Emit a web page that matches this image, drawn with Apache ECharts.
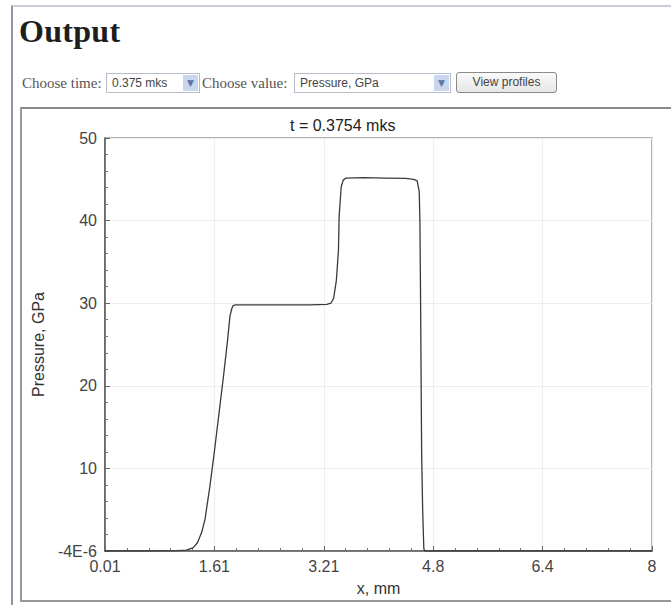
<!DOCTYPE html>
<html>
<head>
<meta charset="utf-8">
<script src="https://cdn.jsdelivr.net/npm/echarts@6/dist/echarts.min.js"></script>
<style>
  html, body { margin:0; padding:0; background:#fff; }
  body { width:671px; height:605px; overflow:hidden; position:relative; }
  .pageframe { position:absolute; left:11px; top:5px; width:720px; height:700px;
    border-left:2px solid #8f95a5; border-top:2px solid #c9cdd6; }
  h1 { position:absolute; left:19px; top:13px; margin:0; font:bold 32px "Liberation Serif", serif; color:#1e1e1e; letter-spacing:0.3px; }
  .lbl { position:absolute; top:75px; font:15px "Liberation Serif", serif; color:#555; white-space:nowrap; }
  .sel { position:absolute; top:73px; height:18px; border:1px solid #b8bcc8; background:#fff;
    font:12px "Liberation Sans", sans-serif; color:#444; line-height:18px; box-sizing:content-box; }
  .sel span { position:absolute; left:5px; top:0; }
  .arr { position:absolute; right:1px; top:1px; width:15px; height:16px; background:#c9d6ee; color:#5a74a8;
    font:9px "DejaVu Sans", sans-serif; line-height:16px; text-align:center; }
  .btn { position:absolute; top:72px; left:456px; width:99px; height:19px; border:1px solid #8a8a8a; border-radius:3px;
    background:linear-gradient(#fafafa,#e6e6e6); font:12px "Liberation Sans", sans-serif; color:#444; text-align:center; line-height:19px; }
  .box { position:absolute; left:20px; top:107px; width:700px; height:491px; border:2px solid #9a9a9a; border-top-color:#8a8a8a; }
  #chart { position:absolute; left:0; top:0; width:671px; height:605px; }
</style>
</head>
<body>
<div class="pageframe"></div>
<h1>Output</h1>
<div class="lbl" style="left:22px">Choose time:</div>
<div class="sel" style="left:106px;width:92px"><span>0.375 mks</span><div class="arr">▼</div></div>
<div class="lbl" style="left:202px">Choose value:</div>
<div class="sel" style="left:294px;width:155px"><span>Pressure, GPa</span><div class="arr">▼</div></div>
<div class="btn">View profiles</div>
<div class="box"></div>
<div id="chart"></div>
<script>
// ---- data ----
const xPos = [0.01, 0.5, 1.0, 1.2, 1.3, 1.36, 1.42, 1.47, 1.54, 1.61, 1.68, 1.74, 1.80, 1.835, 1.86, 1.88, 1.92,
              2.2, 2.6, 3.0, 3.25, 3.31, 3.35, 3.39, 3.42, 3.43, 3.46, 3.49, 3.53, 3.8, 4.1, 4.4, 4.52, 4.57,
              4.60, 4.61, 4.62, 4.635, 4.65, 4.667, 4.68, 5.0, 6.0, 7.0, 8.0];
const pressure = [0, 0, 0.02, 0.1, 0.4, 1.0, 2.2, 3.8, 7.7, 12.2, 17.0, 21.1, 25.5, 28.4, 29.3, 29.7, 29.8,
                  29.8, 29.8, 29.8, 29.85, 30.0, 30.6, 32.8, 36.4, 40.5, 44.1, 44.9, 45.15, 45.2, 45.15, 45.1, 45.0, 44.8,
                  43.5, 40.0, 30.0, 12.0, 5.0, 0.3, 0, 0, 0, 0, 0];
const xTicks = [0.01, 1.608, 3.206, 4.804, 6.402, 8];
const xMinorTicks = [0.3296, 0.6492, 0.9688, 1.2884, 1.9276, 2.2472, 2.5668, 2.8864, 3.5256, 3.8452, 4.1648, 4.4844,
                     5.1236, 5.4432, 5.7628, 6.0824, 6.7216, 7.0412, 7.3608, 7.6804];
const yTickInterval = 10;
const yMinLabel = '-4E-6';
const titleText = 't = 0.3754 mks';
const xName = 'x, mm';
const yName = 'Pressure, GPa';

const chart = echarts.init(document.getElementById('chart'), null, {renderer: 'svg'});
const font = 'Liberation Sans';
chart.setOption({
  animation: false,
  backgroundColor: 'transparent',
  title: { text: titleText, left: 285, top: 112,
    textStyle: { fontSize: 16, fontWeight: 'normal', color: '#222', fontFamily: font } },
  grid: { left: 105, top: 138, right: 19, bottom: 54, show: true, borderColor: '#9a9a9a', borderWidth: 1.5 },
  xAxis: [{
    type: 'value', min: 0.01, max: 8,
    name: xName, nameLocation: 'middle', nameGap: 29,
    nameTextStyle: { fontSize: 16, color: '#333', fontFamily: font },
    axisLine: { lineStyle: { color: '#555', width: 1.5 } },
    axisTick: { inside: true, length: 5, customValues: xTicks, lineStyle: { color: '#666' } },
    axisLabel: { customValues: xTicks, fontSize: 16, color: '#444', fontFamily: font, margin: 7,
      formatter: v => String(parseFloat(v.toFixed(2))) },
    splitLine: { show: true, lineStyle: { color: '#eeeeee', width: 1 } }
  }, {
    type: 'value', min: 0.01, max: 8, position: 'bottom',
    axisLine: { show: false }, axisLabel: { show: false }, splitLine: { show: false },
    axisTick: { inside: true, length: 3, customValues: xMinorTicks, lineStyle: { color: '#777' } }
  }],
  yAxis: {
    type: 'value', min: 0, max: 50, interval: yTickInterval,
    name: yName, nameLocation: 'middle', nameGap: 52,
    nameTextStyle: { fontSize: 16, color: '#333', fontFamily: font },
    axisLine: { show: true, lineStyle: { color: '#555', width: 1.5 } },
    axisTick: { show: true, inside: true, length: 5, lineStyle: { color: '#666' } },
    minorTick: { show: true, splitNumber: 5, length: 3, lineStyle: { color: '#777' } },
    axisLabel: { fontSize: 16, color: '#444', fontFamily: font, margin: 8,
      formatter: v => v === 0 ? yMinLabel : String(v) },
    splitLine: { show: true, lineStyle: { color: '#eeeeee', width: 1 } }
  },
  series: [{
    type: 'line', xAxisIndex: 0,
    data: xPos.map((x, i) => [x, pressure[i]]),
    showSymbol: false, symbol: 'none',
    lineStyle: { color: '#3a3a3a', width: 1.3 }
  }]
});
</script>
</body>
</html>
